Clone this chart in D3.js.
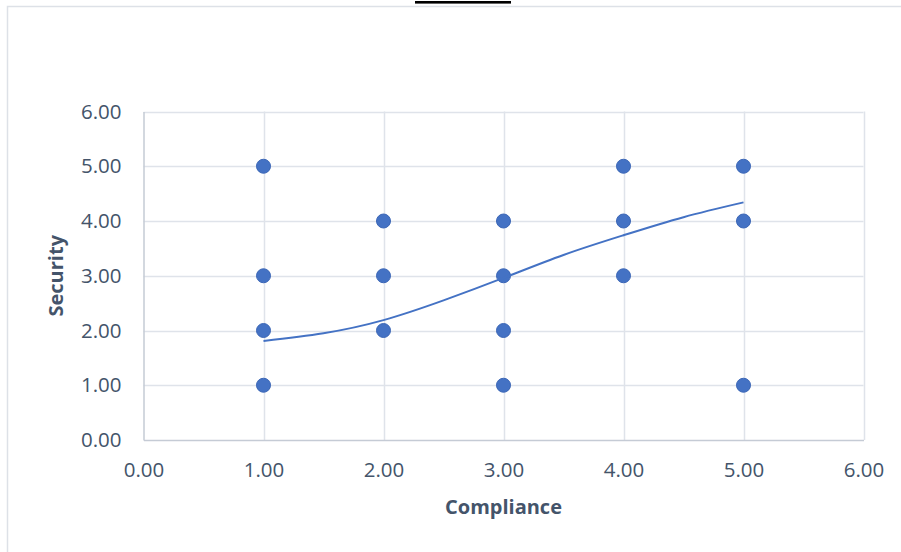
<!DOCTYPE html>
<html>
<head>
<meta charset="utf-8">
<script src="https://cdn.jsdelivr.net/npm/d3@7"></script>
<style>
  html, body { margin: 0; padding: 0; background: #ffffff; }
  svg { display: block; }
</style>
</head>
<body>
<svg id="chart" width="901" height="552"></svg>
<script>
// Survey responses: each pair is (Compliance, Security)
const complianceScores = [1, 1, 1, 1, 2, 2, 2, 3, 3, 3, 3, 4, 4, 4, 5, 5, 5];
const securityScores   = [5, 3, 2, 1, 4, 3, 2, 4, 3, 2, 1, 5, 4, 3, 5, 4, 1];

// Trend curve sampled along the compliance axis
const trendX = [1.0, 1.5, 2.0, 2.5, 3.0, 3.5, 4.0, 4.5, 5.0];
const trendY = [1.81, 1.95, 2.19, 2.55, 2.96, 3.38, 3.74, 4.07, 4.34];

const xTicks = [0, 1, 2, 3, 4, 5, 6];
const yTicks = [0, 1, 2, 3, 4, 5, 6];
const xTitle = "Compliance";
const yTitle = "Security";

const svg = d3.select("#chart");
const W = 901, H = 552;
const plot = { left: 143.5, right: 863.5, top: 111.5, bottom: 440 };

// outer chart frame (top and left edges) and the short dark bar above it
svg.append("path")
  .attr("d", `M7.5,${H} V6.5 H${W}`)
  .attr("fill", "none")
  .attr("stroke", "#dde1e7")
  .attr("stroke-width", 1.5);
svg.append("rect")
  .attr("x", 415).attr("y", 1)
  .attr("width", 96).attr("height", 2.6)
  .attr("fill", "#000000");

const x = d3.scaleLinear().domain([0, 6]).range([plot.left, plot.right]);
const y = d3.scaleLinear().domain([0, 6]).range([plot.bottom, plot.top]);

const gridColor = "#dfe3ea";
const textColor = "#44546a";
const font = "'Open Sans', 'Noto Sans', sans-serif";

// gridlines
const grid = svg.append("g");
grid.selectAll("line.v").data(xTicks.filter(d => d > 0)).join("line")
  .attr("class", "v")
  .attr("x1", d => Math.round(x(d)) + 0.5).attr("x2", d => Math.round(x(d)) + 0.5)
  .attr("y1", plot.top).attr("y2", plot.bottom)
  .attr("stroke", gridColor).attr("stroke-width", 1.5);
grid.selectAll("line.h").data(yTicks.filter(d => d > 0)).join("line")
  .attr("class", "h")
  .attr("x1", plot.left).attr("x2", plot.right)
  .attr("y1", d => Math.round(y(d)) + 0.5).attr("y2", d => Math.round(y(d)) + 0.5)
  .attr("stroke", gridColor).attr("stroke-width", 1.5);

// axes
const fmt = d3.format(".2f");
const xAxis = d3.axisBottom(x).tickValues(xTicks).tickFormat(fmt).tickSize(0).tickPadding(22);
const yAxis = d3.axisLeft(y).tickValues(yTicks).tickFormat(fmt).tickSize(0).tickPadding(22);

const gx = svg.append("g").attr("transform", `translate(0,${plot.bottom})`).call(xAxis);
const gy = svg.append("g").attr("transform", `translate(${plot.left},0)`).call(yAxis);
[gx, gy].forEach(g => {
  g.select(".domain").attr("stroke", "#c5cbd5").attr("stroke-width", 1.5);
  g.selectAll("text")
    .attr("fill", textColor)
    .style("font-family", font)
    .style("font-size", "20.5px");
});
gx.selectAll("text").attr("dy", "0.72em");

// axis titles
svg.append("text")
  .attr("x", (plot.left + plot.right) / 2).attr("y", 509)
  .attr("text-anchor", "middle").attr("dominant-baseline", "middle")
  .attr("fill", textColor)
  .style("font-family", font).style("font-size", "20px").style("font-weight", "bold")
  .text(xTitle);
svg.append("text")
  .attr("transform", `translate(58,${(plot.top + plot.bottom) / 2}) rotate(-90)`)
  .attr("text-anchor", "middle").attr("dominant-baseline", "middle")
  .attr("fill", textColor)
  .style("font-family", font).style("font-size", "20px").style("font-weight", "bold")
  .text(yTitle);

// data points
const points = complianceScores.map((c, i) => ({ c, s: securityScores[i] }));
svg.append("g").selectAll("circle").data(points).join("circle")
  .attr("cx", d => x(d.c)).attr("cy", d => y(d.s))
  .attr("r", 7)
  .attr("fill", "#4472c4")
  .attr("stroke", "#3b66b6")
  .attr("stroke-width", 1);

// trend curve
const trend = trendX.map((v, i) => [v, trendY[i]]);
svg.append("path")
  .datum(trend)
  .attr("d", d3.line().x(d => x(d[0])).y(d => y(d[1])).curve(d3.curveNatural))
  .attr("fill", "none")
  .attr("stroke", "#4472c4")
  .attr("stroke-width", 2);
</script>
</body>
</html>
